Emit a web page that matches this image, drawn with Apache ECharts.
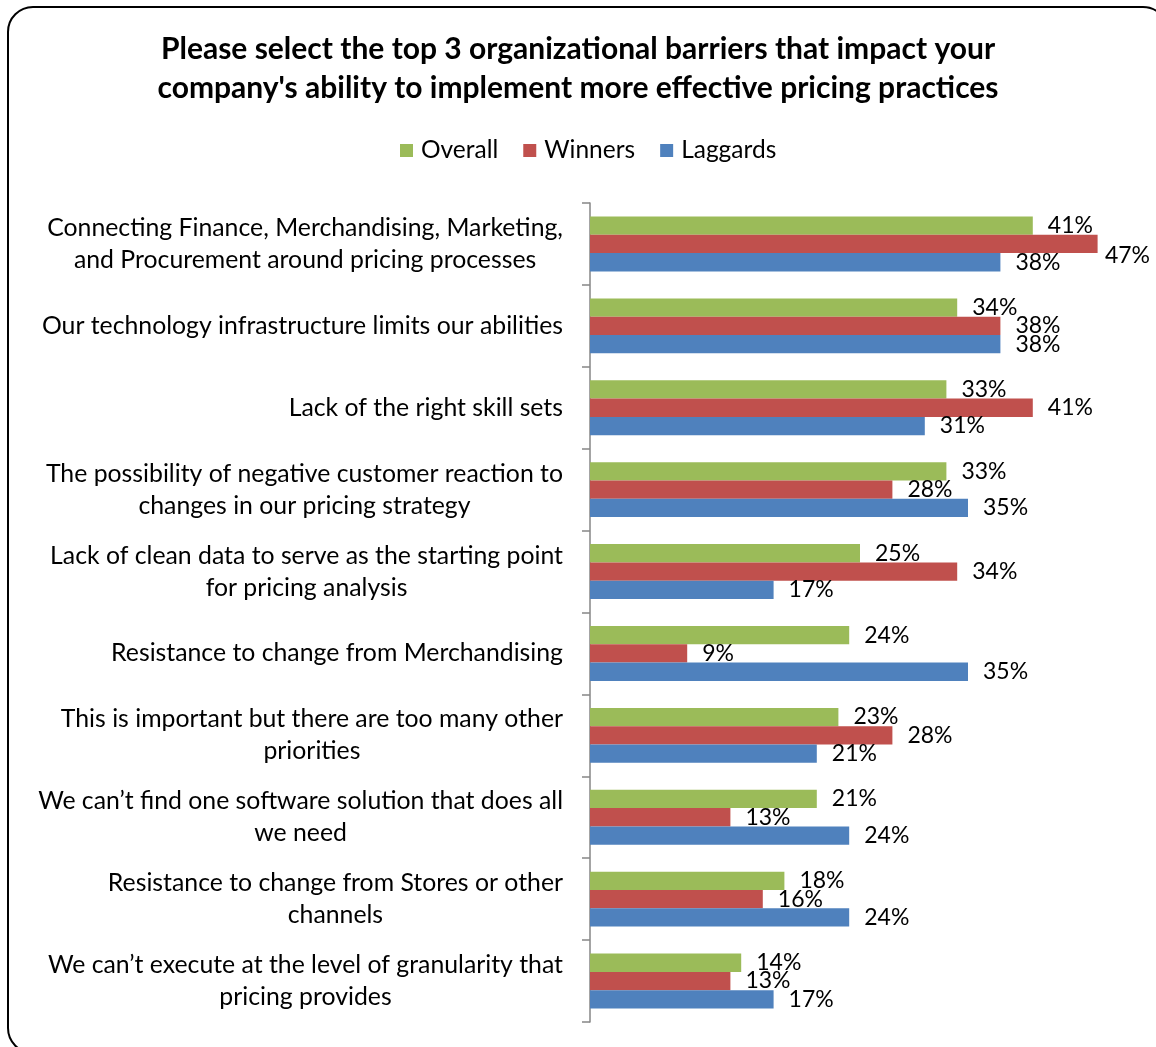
<!DOCTYPE html>
<html>
<head>
<meta charset="utf-8">
<title>Organizational barriers to effective pricing</title>
<script src="https://cdn.jsdelivr.net/npm/echarts@6/dist/echarts.min.js"></script>
<style>
  html, body { margin: 0; padding: 0; background: #fff; }
  #chart { width: 1156px; height: 1047px; }
</style>
</head>
<body>
<div id="chart"></div>
<script>
// Survey answers, share of respondents (%) per barrier
const categories = [
  'Connecting Finance, Merchandising, Marketing,\nand Procurement around pricing processes',
  'Our technology infrastructure limits our abilities',
  'Lack of the right skill sets',
  'The possibility of negative customer reaction to\nchanges in our pricing strategy',
  'Lack of clean data to serve as the starting point\nfor pricing analysis',
  'Resistance to change from Merchandising',
  'This is important but there are too many other\npriorities',
  'We can\u2019t find one software solution that does all\nwe need',
  'Resistance to change from Stores or other\nchannels',
  'We can\u2019t execute at the level of granularity that\npricing provides'
];
const overall  = [41, 34, 33, 33, 25, 24, 23, 21, 18, 14];
const winners  = [47, 38, 41, 28, 34,  9, 28, 13, 16, 13];
const laggards = [38, 38, 31, 35, 17, 35, 21, 24, 24, 17];
const seriesNames = ['Overall', 'Winners', 'Laggards'];

const FONT = 'Lato';
const chart = echarts.init(document.getElementById('chart'), null, { renderer: 'canvas' });
const W = 1156;

function barSeries(name, values, color) {
  return {
    name: name,
    type: 'bar',
    data: values,
    barGap: '0%',
    barCategoryGap: '33%',
    itemStyle: { color: color },
    label: {
      show: true,
      position: 'right',
      distance: 15,
      formatter: '{c}%',
      color: '#000',
      fontFamily: FONT,
      fontSize: 23
    },
    // keep labels inside the frame on the right
    labelLayout: function (p) {
      const limit = W - 6;
      if (p.labelRect.x + p.labelRect.width > limit) {
        return { x: limit - p.labelRect.width };
      }
      return {};
    }
  };
}

chart.setOption({
  backgroundColor: '#fff',
  animation: false,
  textStyle: { fontFamily: FONT },
  title: {
    text: 'Please select the top 3 organizational barriers that impact your\ncompany\'s ability to implement more effective pricing practices',
    left: 'center',
    top: 25,
    textStyle: { fontFamily: FONT, fontSize: 30, fontWeight: 'bold', color: '#000', lineHeight: 39 }
  },
  legend: {
    data: seriesNames,
    top: 133,
    left: 395,
    icon: 'rect',
    itemWidth: 13,
    itemHeight: 13,
    itemGap: 25,
    textStyle: { fontFamily: FONT, fontSize: 24.5, color: '#000', padding: [0, 0, 0, 3] }
  },
  grid: { left: 590, right: 26, top: 203, bottom: 25, containLabel: false },
  xAxis: {
    type: 'value',
    min: 0,
    max: 50,
    show: false
  },
  yAxis: {
    type: 'category',
    data: categories,
    inverse: true,
    axisLine: { show: true, lineStyle: { color: '#868686', width: 1.5 } },
    axisTick: { show: true, length: 8, lineStyle: { color: '#868686', width: 1.5 } },
    axisLabel: {
      margin: 27,
      color: '#000',
      fontFamily: FONT,
      fontSize: 24.8,
      lineHeight: 32,
      formatter: function (v) {
        return v.split('\n').map(function (l) { return '{c|' + l + '}'; }).join('\n');
      },
      rich: {
        c: { align: 'center', fontFamily: FONT, fontSize: 24.8, lineHeight: 32, color: '#000' }
      }
    },
    splitLine: { show: false }
  },
  series: [
    barSeries(seriesNames[0], overall, '#9BBB59'),
    barSeries(seriesNames[1], winners, '#C0504D'),
    barSeries(seriesNames[2], laggards, '#4F81BD')
  ],
  graphic: [{
    type: 'rect',
    z: 100,
    silent: true,
    shape: { x: 8, y: 7, width: 1160, height: 1046, r: 25 },
    style: { fill: 'none', stroke: '#000', lineWidth: 2 }
  }]
});
</script>
</body>
</html>
